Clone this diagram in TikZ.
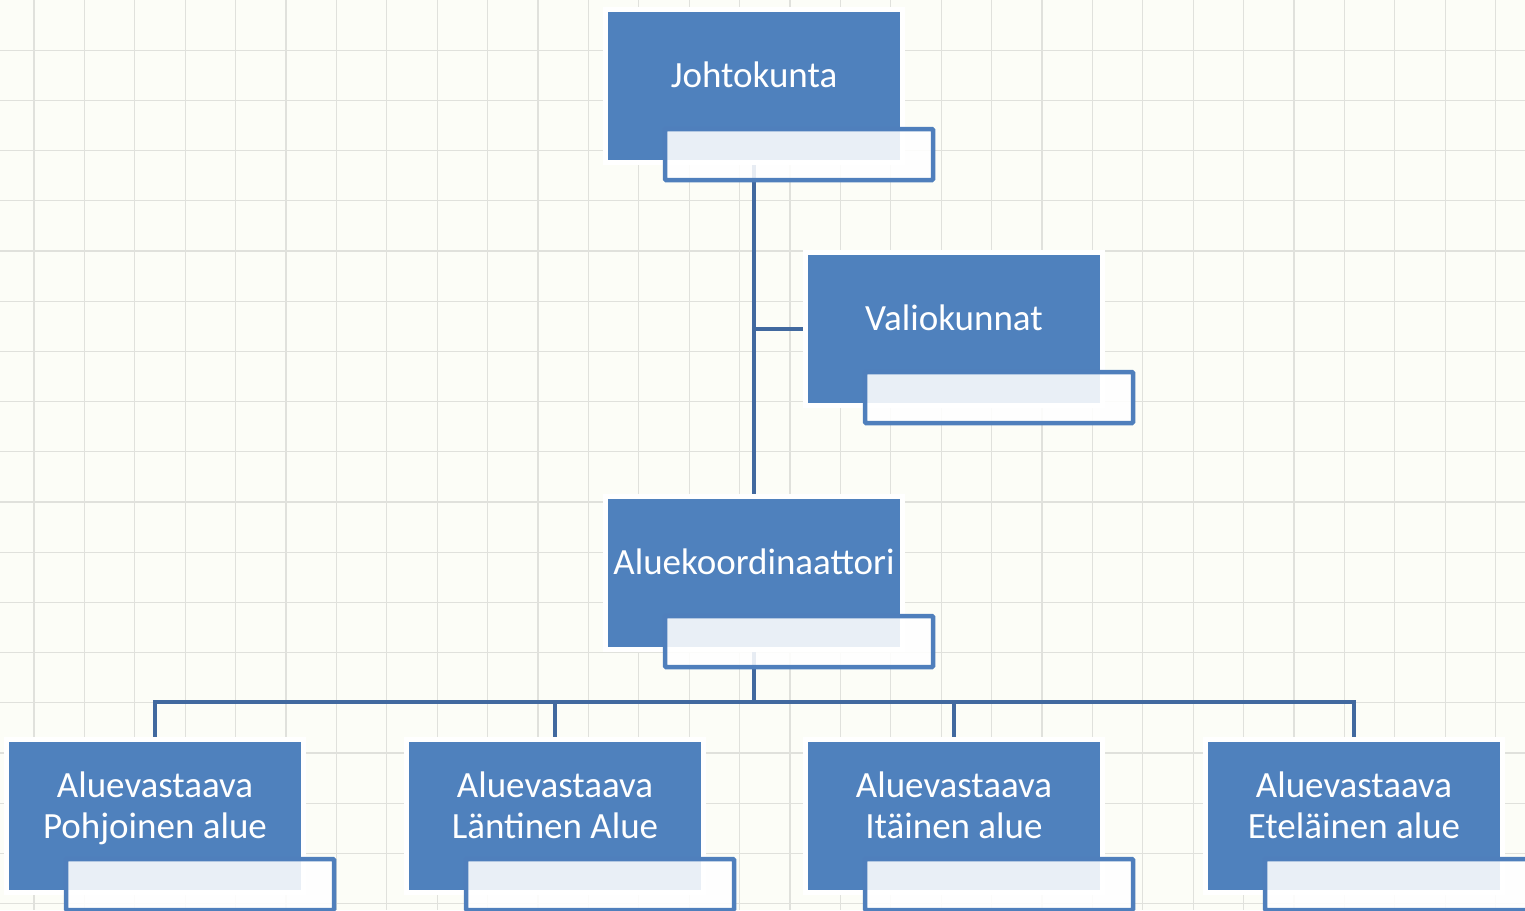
\documentclass[tikz,border=0pt]{standalone}
\usepackage{fontspec}
\setmainfont{Carlito}
\usetikzlibrary{calc}
\definecolor{bgc}{HTML}{FCFDF7}
\definecolor{gridc}{HTML}{E0E1DC}
\definecolor{boxblue}{HTML}{4F81BD}
\definecolor{subblue}{HTML}{4F7FBC}
\definecolor{linec}{HTML}{41699F}
\pgfdeclarelayer{gridlayer}
\pgfdeclarelayer{connlayer}
\pgfsetlayers{gridlayer,connlayer,main}
\tikzset{
  mainbox/.style={rectangle, fill=boxblue, draw=white, line width=5pt,
    minimum width=297pt, minimum height=153pt, inner sep=0pt},
  subbox/.style={rectangle, draw=subblue, line width=4.5pt, fill=white,
    fill opacity=0.88, minimum width=268pt, minimum height=51pt,
    inner sep=0pt, rounded corners=1pt},
  boxtext/.style={text=white, align=center, inner sep=0pt,
    font=\fontsize{37}{41.5}\selectfont},
  conn/.style={draw=linec, line width=4.5pt},
  gridline/.style={draw=gridc, line width=1.3pt}
}
\newcommand\orgunit[4]{%
  \node[mainbox] (#1) at (#2+146,#3+74) {};
  \node[subbox] (#1s) at (#2+191,#3+142.5) {};
  \node[boxtext] (#1t) at (#2+146,#3+63) {#4};
}
\begin{document}
\begin{tikzpicture}[x=1pt,y=-1pt]
\useasboundingbox (0,0) rectangle (1525,910);
\begin{pgfonlayer}{gridlayer}
  \fill[bgc] (0,0) rectangle (1525,910);
  \foreach \i in {0,...,29} \draw[gridline] ({34+50.4*\i},0) -- ++(0,910);
  \foreach \j in {1,...,18} \draw[gridline] (0,{50.2*\j}) -- ++(1525,0);
\end{pgfonlayer}

\orgunit{jo}{608}{12}{Johtokunta}
\orgunit{va}{808}{255}{Valiokunnat}
\orgunit{ak}{608}{499}{Aluekoordinaattori}
\orgunit{pa}{9}{742}{Aluevastaava\\\smash{Pohjoinen alue}}
\orgunit{la}{409}{742}{Aluevastaava\\\smash{Läntinen Alue}}
\orgunit{ia}{808}{742}{Aluevastaava\\\smash{Itäinen alue}}
\orgunit{ea}{1208}{742}{Aluevastaava\\\smash{Eteläinen alue}}

\begin{pgfonlayer}{connlayer}
  \coordinate (bus) at (754,702);
  \draw[conn] (jo.south) -- (ak.north);
  \draw[conn] (va.west) -- (va.west -| jo.south);
  \draw[conn] (ak.south) -- (bus);
  \draw[conn] (pa.north) |- (bus) -| (ea.north);
  \draw[conn] (la.north) -- (la.north |- bus);
  \draw[conn] (ia.north) -- (ia.north |- bus);
\end{pgfonlayer}
\end{tikzpicture}
\end{document}
